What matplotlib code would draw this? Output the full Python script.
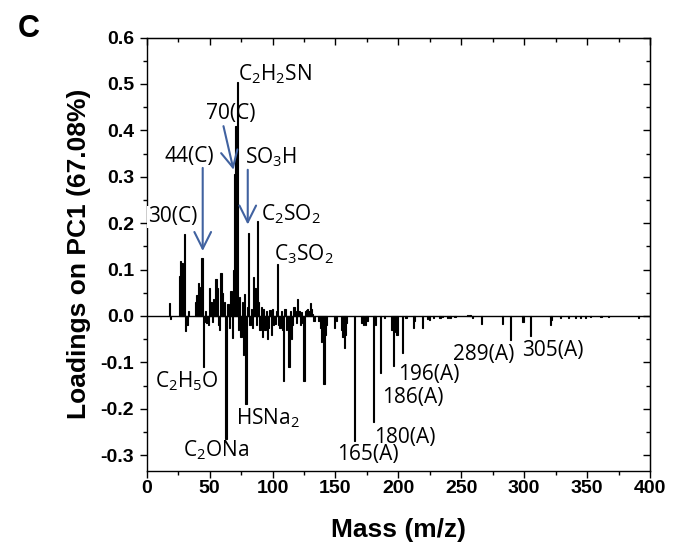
import numpy as np
import matplotlib.pyplot as plt
from matplotlib.ticker import MultipleLocator

# m/z and PC1 loadings
mass = [18, 19, 26, 27, 28, 29, 30, 31, 32, 33, 39, 40, 41, 42, 43, 44, 45, 46, 47, 48,
        49, 50, 51, 52, 53, 54, 55, 56, 57, 58, 59, 60, 61, 62, 63, 64, 65, 66, 67, 68,
        69, 70, 71, 72, 73, 74, 75, 76, 77, 78, 79, 80, 81, 82, 83, 84, 85, 86, 87, 88,
        89, 90, 91, 92, 93, 94, 95, 96, 97, 98, 99, 100, 101, 102, 103, 104, 105, 106, 107, 108,
        109, 110, 111, 112, 113, 114, 115, 116, 117, 118, 119, 120, 121, 122, 123, 124, 125, 126, 127, 128,
        129, 130, 131, 132, 133, 137, 138, 139, 140, 141, 142, 143, 149, 151, 155, 156, 157, 158, 159, 165,
        171, 172, 174, 175, 180, 181, 182, 186, 189, 195, 196, 197, 198, 199, 203, 206, 212, 213, 219, 223,
        225, 228, 233, 235, 239, 241, 245, 255, 257, 259, 266, 283, 289, 299, 305, 321, 322, 329, 335, 341,
        345, 349, 353, 361, 367, 391]
loading = [0.029, -0.006, 0.086, 0.118, 0.115, 0.05, 0.176, -0.032, -0.02, 0.01, 0.03, 0.045, 0.072, 0.062, 0.04, 0.125, -0.11, -0.012, 0.01, -0.015,
           -0.02, 0.061, 0.03, -0.012, 0.036, 0.02, 0.079, 0.061, -0.02, -0.03, 0.092, 0.05, 0.02, 0.03, -0.265, 0.025, 0.025, -0.025, 0.054, -0.047,
           0.1, 0.305, 0.41, 0.505, -0.03, 0.04, -0.045, 0.03, -0.085, 0.047, -0.189, 0.02, 0.179, -0.02, 0.015, -0.025, 0.085, 0.06, -0.02, 0.204,
           0.03, -0.03, 0.02, -0.045, 0.015, -0.03, 0.01, -0.05, -0.025, 0.012, -0.04, 0.015, -0.02, -0.017, 0.01, 0.112, -0.02, -0.025, 0.01, -0.03,
           -0.14, 0.015, -0.03, -0.02, -0.111, 0.01, -0.05, -0.02, 0.02, 0.01, -0.015, 0.036, 0.01, -0.02, 0.008, -0.015, -0.14, 0.01, 0.012, 0.015,
           0.01, 0.028, 0.015, 0.005, -0.01, -0.01, -0.025, -0.057, -0.03, -0.147, -0.04, -0.02, -0.025, -0.01, -0.03, -0.045, -0.068, -0.04, -0.015, -0.27,
           -0.015, -0.02, -0.02, -0.01, -0.229, -0.015, -0.02, -0.122, -0.005, -0.03, -0.107, -0.035, -0.025, -0.04, -0.08, -0.005, -0.026, -0.01, -0.026, -0.006,
           -0.008, -0.004, -0.004, -0.003, -0.004, -0.004, -0.003, 0.003, 0.002, -0.004, -0.018, -0.018, -0.052, -0.012, -0.043, -0.02, -0.008, -0.004, -0.004, -0.004,
           -0.005, -0.004, -0.003, -0.003, -0.003, -0.004]

# подписи пиков: текст, x (левый край), y
labels = [r'C$_2$H$_2$SN', r'70(C)', r'44(C)', r'SO$_3$H', r'30(C)', r'C$_2$SO$_2$', r'C$_3$SO$_2$',
          r'C$_2$H$_5$O', r'C$_2$ONa', r'HSNa$_2$', r'165(A)', r'180(A)', r'186(A)', r'196(A)',
          r'289(A)', r'305(A)']
label_x = [72.5, 47.5, 14.5, 78, 1.0, 91.0, 101.0, 6.5, 29, 71, 151, 181, 187, 200, 243.5, 298]
label_y = [0.52, 0.437, 0.344, 0.343, 0.214, 0.219, 0.133, -0.141, -0.29, -0.22, -0.299, -0.262, -0.175, -0.126, -0.083, -0.075]

plt.rcParams['mathtext.default'] = 'regular'
plt.rcParams['axes.unicode_minus'] = False

fig = plt.figure(figsize=(6.78, 5.5), dpi=100)
ax = fig.add_axes([0.2164, 0.1445, 0.7423, 0.7873])

ax.bar(mass, loading, width=1.0, color='black', edgecolor='black', linewidth=0.8)
ax.axhline(0, color='black', lw=1.0)

ax.set_xlim(0, 400)
ax.set_ylim(-0.333, 0.6)
ax.xaxis.set_major_locator(MultipleLocator(50))
ax.xaxis.set_minor_locator(MultipleLocator(25))
ax.yaxis.set_major_locator(MultipleLocator(0.1))
ax.yaxis.set_minor_locator(MultipleLocator(0.05))
ax.yaxis.set_major_formatter(plt.FormatStrFormatter('%.1f'))
ax.tick_params(which='major', direction='out', length=5, width=1.0)
ax.tick_params(which='minor', direction='out', length=3, width=1.0)
ax.tick_params(axis='x', pad=2)
ax.tick_params(axis='y', pad=4)
for s in ax.spines.values():
    s.set_linewidth(1.0)

# засечки сверху и справа, внутрь
top = ax.secondary_xaxis('top')
top.xaxis.set_major_locator(MultipleLocator(50))
top.xaxis.set_minor_locator(MultipleLocator(25))
top.tick_params(which='major', direction='in', length=5, width=1.0, labeltop=False)
top.tick_params(which='minor', direction='in', length=3, width=1.0)
right = ax.secondary_yaxis('right')
right.yaxis.set_major_locator(MultipleLocator(0.1))
right.yaxis.set_minor_locator(MultipleLocator(0.05))
right.tick_params(which='major', direction='in', length=5, width=1.0, labelright=False)
right.tick_params(which='minor', direction='in', length=3, width=1.0)

for lab in ax.get_xticklabels():
    lab.set_fontfamily('Liberation Sans')
    lab.set_fontweight('bold')
    lab.set_fontsize(14)
for lab in ax.get_yticklabels():
    lab.set_fontfamily('Liberation Sans')
    lab.set_fontweight('bold')
    lab.set_fontsize(14)

ax.set_xlabel('Mass (m/z)', fontsize=19, fontweight='bold', family='Liberation Sans', labelpad=15)
ax.set_ylabel('Loadings on PC1 (67.08%)', fontsize=19, fontweight='bold', family='Liberation Sans', labelpad=7)

for t, x, y in zip(labels, label_x, label_y):
    kw = {}
    if t == '30(C)':
        kw['bbox'] = dict(facecolor='white', edgecolor='none', pad=0.5)
    ax.text(x, y, t, fontsize=15, family='Open Sans', ha='left', va='center', clip_on=False, zorder=5, **kw)

# стрелки на пики 44, 70, 81
arrow_col = '#4162a0'
aprops = dict(arrowstyle='->,head_length=1.2,head_width=0.6', color=arrow_col, lw=1.5, shrinkA=0, shrinkB=0)
pk = dict(zip(mass, loading))
ax.annotate('', xy=(44.5, pk[44] + 0.015), xytext=(44.5, 0.319), arrowprops=aprops)
ax.annotate('', xy=(69, pk[70] + 0.01), xytext=(61, 0.409), arrowprops=aprops)
ax.annotate('', xy=(80.3, pk[81] + 0.018), xytext=(80.3, 0.315), arrowprops=aprops)

fig.text(0.026, 0.975, 'C', fontsize=22, fontweight='bold', family='Liberation Sans', va='top')

fig.savefig('out.png', dpi=100)
